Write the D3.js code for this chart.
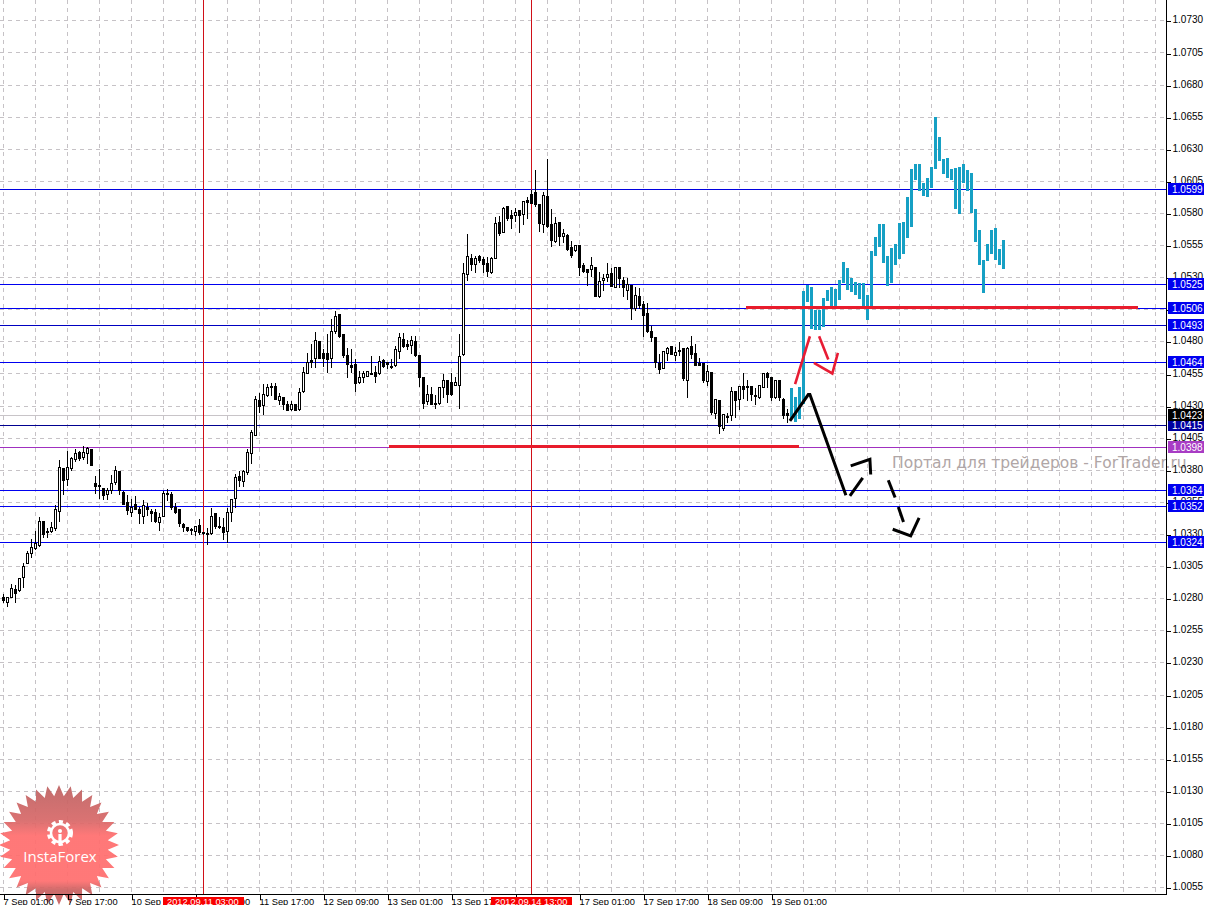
<!DOCTYPE html>
<html>
<head>
<meta charset="utf-8">
<script src="https://cdn.jsdelivr.net/npm/d3@7"></script>
<style>
html, body { margin: 0; padding: 0; background: #fff; overflow: hidden; }
svg { display: block; }
text { font-family: "Liberation Sans", Arial, sans-serif; }
</style>
</head>
<body>
<script>
// all prices below are in pips above 1.0000 (1.0423 -> 423)
var highs = [283.8,281.2,292.1,291.1,295.5,308.5,317.6,326.7,333.2,344.1,
341.0,335.3,340.5,353.2,388.3,381.8,395.6,390.9,396.9,395.1,
399.0,398.2,396.9,376.1,381.6,366.5,366.5,376.4,383.6,380.0,
363.9,361.3,357.9,360.0,351.9,357.1,355.3,350.1,350.1,347.5,
363.9,365.7,363.1,355.3,350.1,339.7,336.3,335.8,337.1,342.3,
332.4,335.8,350.9,346.7,344.1,343.6,351.4,357.9,377.4,379.5,
380.5,396.9,411.7,438.1,440.7,447.7,447.7,448.0,448.5,440.7,
437.3,434.7,434.7,432.1,444.6,460.7,471.9,478.9,488.3,480.5,
474.5,486.2,497.9,504.4,501.8,486.2,475.3,474.5,466.7,457.6,
458.1,457.6,469.3,461.5,469.3,466.7,464.9,467.2,477.1,487.2,
487.2,481.5,484.9,484.9,470.1,452.9,446.7,445.1,438.9,445.1,
455.0,450.3,456.3,452.9,486.2,541.8,564.4,548.8,547.5,548.3,
546.7,546.7,546.7,577.9,578.7,585.7,586.2,583.1,584.4,583.1,
590.4,593.0,598.7,614.6,587.8,597.2,623.2,583.9,577.4,573.8,
568.3,564.4,559.2,556.1,555.3,542.0,536.8,546.7,538.4,534.5,
533.2,541.8,537.9,538.4,538.4,530.6,530.1,524.4,522.8,522.3,
512.4,510.3,492.6,484.1,470.6,473.2,476.3,476.3,476.3,480.2,
475.0,476.3,484.9,478.4,468.0,463.3,462.3,456.8,436.3,434.7,
423.8,425.1,445.1,441.5,445.9,455.8,451.1,445.9,444.1,446.7,
456.3,456.8,452.9,450.8,450.3,436.8,428.5];

var lows = [277.3,274.2,280.7,277.3,285.9,289.0,307.2,312.4,318.4,321.0,
328.0,328.0,331.9,333.2,340.5,361.3,368.3,379.5,386.5,387.8,
388.3,385.2,383.4,362.3,357.9,357.4,357.4,361.8,369.1,361.3,
353.0,345.7,344.4,349.3,338.9,338.9,344.9,340.5,339.7,333.2,
344.1,356.6,349.6,346.7,336.3,332.7,332.4,329.8,329.3,329.8,
329.8,322.0,330.1,334.8,334.8,326.2,323.6,340.5,351.4,367.0,
367.5,376.9,385.2,407.0,425.1,423.8,437.3,438.1,435.0,431.6,
427.2,426.4,426.9,426.4,426.9,440.7,455.0,459.7,459.7,466.7,
461.0,456.3,460.2,486.2,483.6,468.0,452.4,455.8,441.2,447.7,
448.5,452.9,454.5,448.2,454.5,459.7,459.2,459.4,461.2,466.7,
475.8,473.7,470.6,468.8,445.1,428.5,431.1,431.1,428.5,431.6,
436.8,432.9,438.1,445.9,428.5,469.5,527.5,535.8,533.7,541.5,
533.7,530.6,533.2,544.6,562.8,564.9,574.3,568.0,573.8,564.9,
571.7,576.4,587.8,585.2,566.2,565.4,569.1,554.5,557.1,555.0,
557.1,550.9,545.7,550.4,531.9,534.0,523.6,530.6,515.0,514.7,
520.2,526.7,522.8,522.0,522.3,515.0,513.2,497.6,504.6,505.9,
484.3,487.7,480.4,460.2,455.0,458.9,465.4,470.1,465.4,469.3,
449.8,436.8,466.7,461.5,461.5,448.5,445.9,423.3,420.4,408.7,
411.3,417.3,419.1,421.2,427.4,436.3,434.2,434.7,431.6,436.3,
444.1,444.6,434.2,436.3,434.7,420.7,417.3];

var opens = [280.7,277.3,281.2,286.9,286.1,296.8,307.2,315.0,318.9,321.5,
340.0,332.4,332.7,334.5,348.0,381.6,372.7,381.3,388.3,393.8,
389.9,393.0,396.4,369.6,368.0,365.7,360.8,363.9,370.6,379.0,
362.6,354.8,347.5,353.2,349.6,344.4,351.1,347.8,347.0,339.7,
344.4,361.8,361.0,351.4,349.6,337.6,335.5,334.0,332.4,336.8,
331.9,330.6,330.6,346.2,336.3,335.8,332.7,347.5,357.9,375.3,
370.9,377.9,393.0,407.3,434.2,430.3,438.1,445.1,445.1,434.7,
436.8,431.6,427.7,431.6,427.2,441.5,455.5,465.9,466.7,480.0,
471.1,470.6,467.2,488.3,501.3,485.7,469.3,462.0,462.3,448.5,
452.4,453.4,455.5,456.3,455.0,465.9,463.6,460.5,461.8,472.7,
481.8,477.9,477.1,480.2,469.3,452.4,433.7,438.9,432.1,432.1,
444.1,449.8,448.5,446.2,446.2,470.0,532.4,544.9,540.5,546.2,
544.1,541.0,533.7,544.9,573.2,565.2,585.7,578.7,578.2,582.6,
579.0,590.4,595.1,596.6,587.3,571.7,593.5,571.7,558.4,573.2,
561.8,563.1,553.2,550.9,554.8,539.7,536.3,536.3,537.9,515.0,
527.5,529.8,533.5,522.5,537.9,528.0,520.2,524.1,506.4,515.5,
509.0,502.0,488.2,483.6,463.3,459.4,471.1,476.3,469.6,473.5,
474.5,450.3,476.3,470.6,462.8,462.8,449.3,456.3,424.6,434.2,
412.9,421.2,423.0,441.0,435.2,445.6,444.9,445.1,438.6,436.8,
444.6,455.0,452.4,436.8,449.8,435.5,424.6];

var closes = [278.6,280.7,287.7,284.3,295.5,305.4,315.5,319.7,322.8,340.5,
330.1,331.4,335.8,349.3,381.8,371.9,381.8,389.1,393.0,389.1,
393.8,396.9,383.6,367.0,367.0,360.0,364.4,369.6,380.0,363.9,
353.5,348.8,350.9,349.8,346.2,352.7,349.1,346.2,340.5,343.6,
361.8,360.8,350.9,347.5,338.9,335.5,332.9,333.5,336.3,331.9,
330.6,329.8,344.4,336.3,335.5,331.9,347.0,357.1,374.3,371.7,
379.0,393.8,409.4,435.0,429.5,439.4,444.6,444.1,435.5,437.8,
431.6,426.9,431.1,426.9,440.7,456.3,464.1,464.1,481.0,467.2,
466.7,466.2,487.8,499.7,484.1,469.3,462.3,460.2,447.7,451.9,
455.0,456.8,455.0,453.2,464.4,461.2,462.3,459.9,473.7,483.1,
476.3,476.8,481.0,469.3,452.4,432.1,439.4,431.6,431.1,444.6,
450.3,438.9,439.4,448.0,469.0,533.2,546.2,540.0,544.9,543.1,
540.0,534.5,544.6,572.2,564.4,583.9,576.4,576.4,580.8,578.7,
589.4,588.8,587.8,587.3,572.2,594.0,569.6,559.2,572.2,562.3,
564.4,551.7,547.5,555.0,537.6,534.5,534.2,539.4,515.5,527.0,
529.3,532.4,523.3,537.9,529.0,522.0,524.9,505.9,516.3,508.0,
500.7,488.2,483.5,463.6,458.6,472.7,474.5,470.1,471.4,472.9,
451.4,474.5,470.1,462.0,462.0,449.8,456.8,424.8,435.0,413.9,
423.3,421.7,441.5,434.7,444.9,443.3,444.3,439.1,437.6,445.9,
455.5,451.9,436.8,450.3,436.8,423.0,422.8];

// the overlaid blue bars start right after the last candle
var overlayStart = 197;
var overlayTops = [444.1,437.3,445.1,519.4,524.1,522.5,505.1,504.6,514.0,520.2,
522.5,521.0,528.0,542.0,537.4,529.6,526.4,525.7,525.7,516.3,
550.6,561.5,571.7,571.7,546.7,553.0,556.1,572.5,573.2,592.7,
614.6,618.5,618.5,603.7,607.6,616.1,655.1,639.5,622.4,623.2,
614.6,615.4,616.1,618.5,613.8,611.5,583.4,567.0,543.6,556.1,
567.0,568.6,552.2,559.2];
var overlayBottoms = [419.9,417.3,419.9,432.0,511.1,489.8,489.0,489.0,491.3,511.6,
507.7,507.7,512.4,525.7,520.2,518.6,516.3,513.2,507.7,496.8,
507.7,546.7,553.7,541.3,523.3,525.7,539.7,544.4,548.3,560.8,
569.3,606.0,597.4,593.5,592.7,599.8,614.6,620.8,610.7,607.6,
606.0,583.4,579.5,603.7,597.4,580.3,557.6,539.7,517.9,542.8,
548.3,543.6,539.7,536.6];

var priceTicks = [1.0730,1.0705,1.0680,1.0655,1.0630,1.0605,1.0580,1.0555,1.0530,1.0505,
1.0480,1.0455,1.0430,1.0405,1.0380,1.0355,1.0330,1.0305,1.0280,1.0255,
1.0230,1.0205,1.0180,1.0155,1.0130,1.0105,1.0080,1.0055];

var timeTicks = [0,16,32,48,64,80,96,112,128,144,160,176,192];
var timeLabels = ["7 Sep 01:00","7 Sep 17:00","10 Sep 09:00","11 Sep 01:00","11 Sep 17:00",
    "12 Sep 09:00","13 Sep 01:00","13 Sep 17:00","14 Sep 09:00","17 Sep 01:00",
    "17 Sep 17:00","18 Sep 09:00","19 Sep 01:00"];

var levels = [1.0599,1.0525,1.0506,1.0493,1.0464,1.0415,1.0398,1.0364,1.0352,1.0324];
var levelColors = ["#0000e0","#0000f0","#0000f0","#0000c0","#0000f0","#000090","#a030c0","#0000f0","#0000f0","#0000f0"];
var boxColors = ["#0000f0","#0000f0","#0000f0","#0000f0","#0000f0","#0000a0","#a83cc4","#0000f0","#0000f0","#0000f0"];
var bidLevel = 1.0423;

var markerBars = [50, 132];
var markerLabels = ["2012.09.11 03:00", "2012.09.14 13:00"];

// hand drawn trend lines, [bar, pips]
var redBars = [[[96.4,398.8],[198.9,398.8]], [[185.6,506.8],[283.6,506.8]]];
var redStrokes = [[[197.9,447.1],[201.6,484.4]],
    [[203.9,484.4],[206.2,466.3]],
    [[202.6,463.6],[207.2,455.4],[208.6,471.4]]];
var blackStrokes = [[[196.6,418.5],[201.2,439.0],[201.6,439.0],[210.6,360.6]],
    [[214.8,374.1],[211.6,360.1]],
    [[211.8,383.4],[216.6,388.6],[216.8,376.7]],
    [[221.2,372.3],[222.9,358.8]],
    [[223.7,351.5],[225,339.8]],
    [[222.3,334.1],[226.8,328.9],[228.9,342.9]]];

var width = 1209, height = 905;
var axisX = 1166.5, axisY = 894.5;

function pips(p) { return 1 + p / 10000; }
function snap(v) { return Math.floor(v) + 0.5; }

var x = d3.scaleLinear().domain([0, 1]).range([3.5, 7.5]);
var y = d3.scaleLinear().domain([1.0055, 1.0730]).range([887.6, 20.9]);

var svg = d3.select("body").append("svg")
    .attr("width", width)
    .attr("height", height);

// grid
var grid = svg.append("g").attr("shape-rendering", "crispEdges")
    .attr("stroke", "#c6c2c6").attr("stroke-dasharray", "4,4");
grid.selectAll(".gy").data(priceTicks).enter().append("line")
    .attr("x1", 0).attr("x2", axisX)
    .attr("y1", function(d) { return snap(y(d)); })
    .attr("y2", function(d) { return snap(y(d)); });
grid.selectAll(".gx").data(d3.range(0, 289, 8)).enter().append("line")
    .attr("y1", 0).attr("y2", axisY)
    .attr("x1", function(d) { return x(d); })
    .attr("x2", function(d) { return x(d); });

// watermark
svg.append("text")
    .attr("x", 892).attr("y", 468)
    .attr("fill", "#b0a6a6")
    .style("font-family", "DejaVu Sans")
    .style("font-size", "15.5px")
    .text("Портал для трейдеров - ForTrader.ru");

// horizontal levels and the two vertical markers
var lines = svg.append("g").attr("shape-rendering", "crispEdges");
lines.append("line")
    .attr("x1", 0).attr("x2", axisX)
    .attr("y1", snap(y(bidLevel))).attr("y2", snap(y(bidLevel)))
    .attr("stroke", "#c8c4c8");
lines.selectAll(".level").data(levels).enter().append("line")
    .attr("x1", 0).attr("x2", axisX)
    .attr("y1", function(d) { return snap(y(d)); })
    .attr("y2", function(d) { return snap(y(d)); })
    .attr("stroke", function(d, i) { return levelColors[i]; });
lines.selectAll(".marker").data(markerBars).enter().append("line")
    .attr("x1", function(d) { return x(d); })
    .attr("x2", function(d) { return x(d); })
    .attr("y1", 0).attr("y2", axisY)
    .attr("stroke", "#d01018");

// candles
var candles = svg.append("g").attr("shape-rendering", "crispEdges");
candles.selectAll(".wick").data(highs).enter().append("line")
    .attr("x1", function(d, i) { return x(i); })
    .attr("x2", function(d, i) { return x(i); })
    .attr("y1", function(d) { return snap(y(pips(d))); })
    .attr("y2", function(d, i) { return snap(y(pips(lows[i]))); })
    .attr("stroke", "#000");
candles.selectAll(".body").data(opens).enter().append("rect")
    .attr("x", function(d, i) { return x(i) - 1; })
    .attr("width", 2)
    .attr("y", function(d, i) { return snap(y(pips(Math.max(d, closes[i])))); })
    .attr("height", function(d, i) {
        return Math.max(0.5, snap(y(pips(Math.min(d, closes[i])))) - snap(y(pips(Math.max(d, closes[i])))));
    })
    .attr("fill", function(d, i) { return closes[i] >= d ? "#fff" : "#000"; })
    .attr("stroke", "#000");

// blue overlay bars
svg.append("g").attr("shape-rendering", "crispEdges")
    .selectAll("rect").data(overlayTops).enter().append("rect")
    .attr("x", function(d, i) { return x(overlayStart + i) - 1.5; })
    .attr("width", 3)
    .attr("y", function(d) { return y(pips(d)); })
    .attr("height", function(d, i) { return y(pips(overlayBottoms[i])) - y(pips(d)); })
    .attr("fill", "#16a0c4");

var trend = d3.line()
    .x(function(d) { return x(d[0]); })
    .y(function(d) { return y(pips(d[1])); });

svg.append("g").selectAll("path").data(redBars).enter().append("path")
    .attr("d", trend).attr("fill", "none")
    .attr("stroke", "#e81c2c").attr("stroke-width", 3)
    .attr("shape-rendering", "crispEdges");
svg.append("g").selectAll("path").data(redStrokes).enter().append("path")
    .attr("d", trend).attr("fill", "none")
    .attr("stroke", "#e81c34").attr("stroke-width", 2.6);
svg.append("g").selectAll("path").data(blackStrokes).enter().append("path")
    .attr("d", trend).attr("fill", "none")
    .attr("stroke", "#000").attr("stroke-width", 3);

// logo
var defs = svg.append("defs");
var grad = defs.append("linearGradient").attr("id", "logoFill")
    .attr("x1", 0).attr("y1", 0).attr("x2", 0).attr("y2", 1);
grad.append("stop").attr("offset", "0").attr("stop-color", "#bd6262");
grad.append("stop").attr("offset", "0.3").attr("stop-color", "#d86868");
grad.append("stop").attr("offset", "0.42").attr("stop-color", "#ff6e6e");
grad.append("stop").attr("offset", "0.8").attr("stop-color", "#ff6e6e");
grad.append("stop").attr("offset", "0.88").attr("stop-color", "#c86060");
grad.append("stop").attr("offset", "1").attr("stop-color", "#c86060");

var logo = svg.append("g").attr("transform", "translate(59,845)");
var starPoints = 32;
logo.append("path")
    .attr("d", d3.lineRadial()
        .angle(function(d) { return d * Math.PI / starPoints; })
        .radius(function(d) { return d % 2 == 0 ? 60 : 49; })
        .curve(d3.curveLinearClosed)(d3.range(starPoints * 2)))
    .attr("fill", "url(#logoFill)")
    .attr("fill-opacity", 0.93);
// gear
var gear = logo.append("g").attr("transform", "translate(1,-12)").attr("fill", "none").attr("stroke", "#fff");
gear.append("circle").attr("r", 11).attr("stroke-width", 4).attr("stroke-dasharray", "4,3.2");
gear.append("circle").attr("r", 9).attr("stroke-width", 2.5);
gear.append("circle").attr("cy", -2).attr("r", 2).attr("fill", "#fff").attr("stroke", "none");
gear.append("rect").attr("x", -1.6).attr("y", 1).attr("width", 3.2).attr("height", 11).attr("fill", "#fff").attr("stroke", "none");
logo.append("text")
    .attr("x", 1).attr("y", 17)
    .attr("text-anchor", "middle")
    .attr("fill", "#fff")
    .style("font-family", "Open Sans")
    .style("font-size", "15px")
    .text("InstaForex");

// right axis
var yAxis = d3.axisRight(y)
    .tickValues(priceTicks)
    .tickFormat(d3.format(".4f"))
    .tickSize(4)
    .tickPadding(2);
var gy = svg.append("g")
    .attr("transform", "translate(" + axisX + ",0.5)")
    .call(yAxis);
gy.select(".domain").remove();
gy.selectAll("text")
    .attr("dy", "0.15em")
    .style("font-size", "10px")
    .style("font-family", "Liberation Sans")
    .attr("fill", "#000");
gy.selectAll("line").attr("shape-rendering", "crispEdges");

svg.append("line")
    .attr("x1", axisX).attr("x2", axisX).attr("y1", 0).attr("y2", axisY)
    .attr("stroke", "#000").attr("shape-rendering", "crispEdges");

// bottom axis
var xAxis = d3.axisBottom(x)
    .tickValues(timeTicks)
    .tickFormat(function(d, i) { return timeLabels[i]; })
    .tickSize(5)
    .tickPadding(-2);
var gx = svg.append("g")
    .attr("transform", "translate(0," + axisY + ")")
    .call(xAxis);
gx.select(".domain").remove();
gx.selectAll("text")
    .attr("text-anchor", "start")
    .attr("x", -0.5)
    .attr("y", 4)
    .attr("dy", "0.71em")
    .style("font-size", "9.3px")
    .style("font-family", "Liberation Sans")
    .attr("fill", "#000");
gx.selectAll("line").attr("shape-rendering", "crispEdges");

svg.append("line")
    .attr("x1", 0).attr("x2", axisX).attr("y1", axisY).attr("y2", axisY)
    .attr("stroke", "#000").attr("shape-rendering", "crispEdges");

// price boxes on the axis
function priceBox(value, color) {
    var py = snap(y(value));
    svg.append("rect")
        .attr("x", 1168).attr("y", py - 6.5)
        .attr("width", 36).attr("height", 12)
        .attr("fill", color);
    svg.append("text")
        .attr("x", 1172).attr("y", py + 3.5)
        .attr("fill", "#fff")
        .style("font-size", "10px")
        .text(d3.format(".4f")(value));
}
levels.forEach(function(d, i) { priceBox(d, boxColors[i]); });
priceBox(bidLevel, "#000");

// red time boxes on the axis
markerBars.forEach(function(d, i) {
    var boxLeft = x(d) - 40.5;
    svg.append("rect")
        .attr("x", boxLeft).attr("y", 897)
        .attr("width", 81).attr("height", 8)
        .attr("fill", "#f80000");
    svg.append("text")
        .attr("x", boxLeft + 4).attr("y", 905)
        .attr("fill", "#fff")
        .style("font-size", "9.3px")
        .text(markerLabels[i]);
});
</script>
</body>
</html>
